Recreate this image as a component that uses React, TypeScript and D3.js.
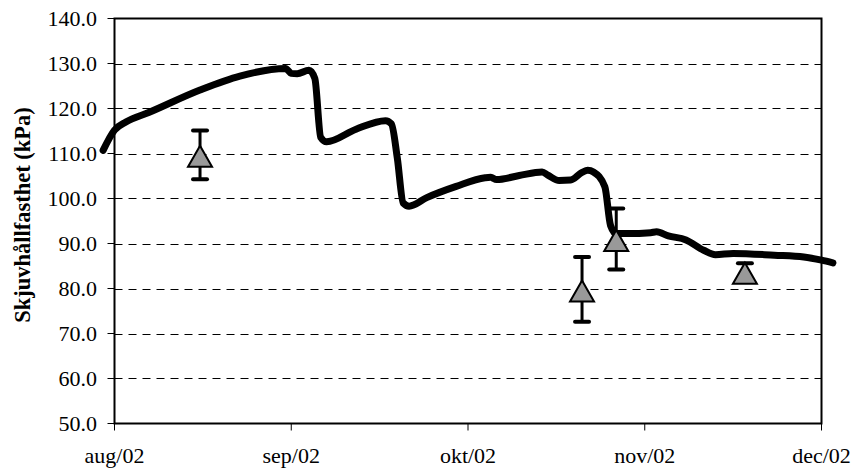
import React from "react";
import * as d3 from "d3";

const monthLabels = ["aug/02", "sep/02", "okt/02", "nov/02", "dec/02"];
const yTickValues = [50, 60, 70, 80, 90, 100, 110, 120, 130, 140];
const yGridValues = [60, 70, 80, 90, 100, 110, 120, 130];

const lineDates = [
  "2002-07-30", "2002-08-01", "2002-08-03", "2002-08-07", "2002-08-16", "2002-08-23",
  "2002-08-31", "2002-09-01", "2002-09-02", "2002-09-04", "2002-09-05", "2002-09-06",
  "2002-09-07", "2002-09-12", "2002-09-17", "2002-09-18", "2002-09-19", "2002-09-20",
  "2002-09-21", "2002-09-24", "2002-09-29", "2002-10-04", "2002-10-05", "2002-10-06",
  "2002-10-10", "2002-10-14", "2002-10-15", "2002-10-17", "2002-10-19", "2002-10-21",
  "2002-10-22", "2002-10-23", "2002-10-25", "2002-10-26", "2002-10-27", "2002-10-29",
  "2002-11-02", "2002-11-03", "2002-11-05", "2002-11-08", "2002-11-11", "2002-11-13",
  "2002-11-16", "2002-11-23", "2002-11-28", "2002-12-01", "2002-12-03",
];
const lineValues = [
  110.7, 115.2, 117.0, 119.1, 124.1, 127.2,
  128.9, 127.8, 127.7, 128.5, 126.7, 113.6,
  112.6, 115.4, 117.3, 116.6, 109.0, 99.0,
  98.3, 100.2, 102.7, 104.6, 104.7, 104.2,
  105.1, 105.9, 105.2, 104.0, 104.1, 105.8,
  106.3, 105.9, 102.6, 94.0, 92.2, 92.2,
  92.4, 92.6, 91.7, 90.8, 88.5, 87.5,
  87.8, 87.4, 87.0, 86.3, 85.7,
];

const obsDates = ["2002-08-16", "2002-10-21", "2002-10-27", "2002-11-18"];
const obsValues = [109.7, 79.8, 91.0, 83.7];
const obsErrors = [5.4, 7.2, 6.8, 1.9];

// fractional month index, aug/02 = 0
function monthPos(s: string): number {
  const [yy, mm, dd] = s.split("-").map(Number);
  const dim = new Date(yy, mm, 0).getDate();
  return (yy - 2002) * 12 + (mm - 1) - 7 + (dd - 1) / dim;
}

export default function App() {
  const W = 853, H = 470;
  const left = 114.5, right = 821.5, top = 18.5, bottom = 423.5;
  const x = d3.scaleLinear().domain([0, monthLabels.length - 1]).range([left, right]);
  const y = d3.scaleLinear().domain([50, 140]).range([bottom, top]);

  const linePts: [number, number][] = lineDates.map((d, i) => [monthPos(d), lineValues[i]]);
  const lineGen = d3.line<[number, number]>().x((p) => x(p[0])).y((p) => y(p[1])).curve(d3.curveMonotoneX);
  const font = "'Liberation Serif', 'Times New Roman', serif";

  return (
    <svg width={W} height={H} style={{ position: "absolute", left: 0, top: 0, display: "block" }}>
      <rect x={0} y={0} width={W} height={H} fill="#fff" />
      {yGridValues.map((v) => (
        <line key={v} x1={left} x2={right} y1={Math.round(y(v)) + 0.5} y2={Math.round(y(v)) + 0.5}
          stroke="#000" strokeWidth={1} strokeDasharray="8,6" />
      ))}
      {/* plot border */}
      <rect x={left} y={top} width={right - left} height={bottom - top} fill="none" stroke="#000" strokeWidth={2} />
      {yTickValues.map((v) => (
        <g key={v}>
          <line x1={left - 7} x2={left} y1={y(v)} y2={y(v)} stroke="#000" strokeWidth={1} />
          <text x={97} y={y(v)} dy="0.35em" textAnchor="end" fontFamily={font} fontSize={22}>
            {v.toFixed(1)}
          </text>
        </g>
      ))}
      {monthLabels.map((m, i) => (
        <g key={m}>
          <line x1={x(i)} x2={x(i)} y1={bottom} y2={bottom + 7} stroke="#000" strokeWidth={1} />
          <text x={x(i)} y={463} textAnchor="middle" fontFamily={font} fontSize={22}>{m}</text>
        </g>
      ))}
      <text transform={`translate(30,215) rotate(-90)`} textAnchor="middle"
        fontFamily={font} fontSize={22.5} fontWeight="bold">Skjuvhållfasthet (kPa)</text>
      <path d={lineGen(linePts) || ""} fill="none" stroke="#000" strokeWidth={7}
        strokeLinejoin="round" strokeLinecap="round" />
      {obsDates.map((d, i) => {
        const cx = x(monthPos(d));
        const yt = y(obsValues[i] + obsErrors[i]);
        const yb = y(obsValues[i] - obsErrors[i]);
        return (
          <g key={"e" + d}>
            <line x1={cx} x2={cx} y1={yt} y2={yb} stroke="#000" strokeWidth={3} />
            <line x1={cx - 7} x2={cx + 7} y1={yt} y2={yt} stroke="#000" strokeWidth={4} strokeLinecap="round" />
            <line x1={cx - 7} x2={cx + 7} y1={yb} y2={yb} stroke="#000" strokeWidth={4} strokeLinecap="round" />
          </g>
        );
      })}
      {obsDates.map((d, i) => {
        const cx = x(monthPos(d));
        const cy = y(obsValues[i]) + 1.5;
        const pts = [[cx, cy - 10.5], [cx + 12, cy + 10.5], [cx - 12, cy + 10.5]].map((p) => p.join(",")).join(" ");
        return <polygon key={"m" + d} points={pts} fill="#999999" stroke="#000" strokeWidth={2} strokeLinejoin="miter" />;
      })}
    </svg>
  );
}
